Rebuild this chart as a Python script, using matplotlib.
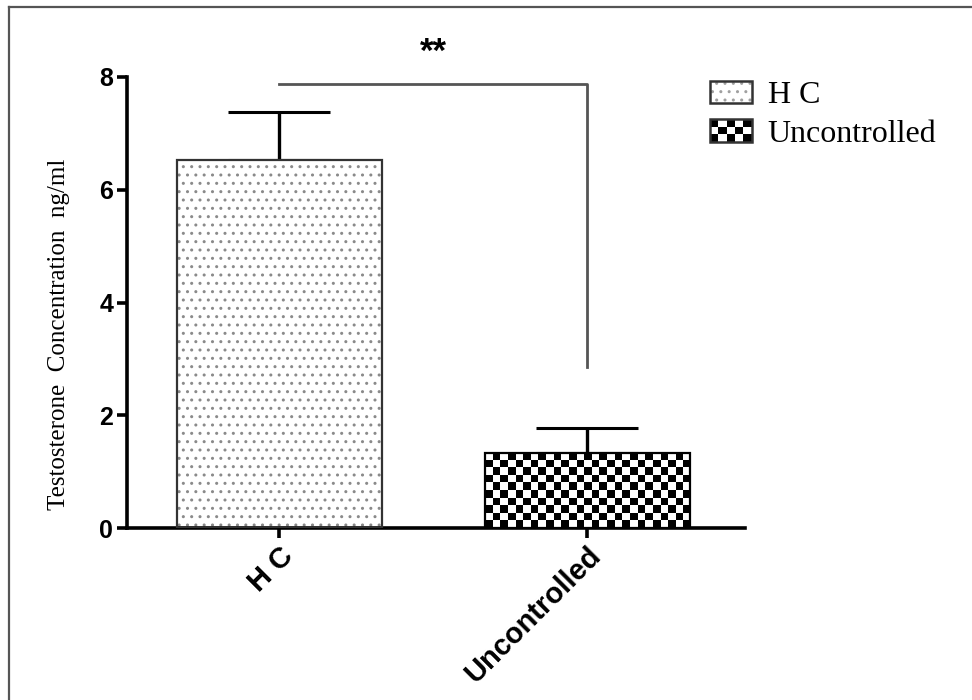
import numpy as np
import matplotlib
matplotlib.use('Agg')
import matplotlib.pyplot as plt
from matplotlib.patches import Rectangle
from matplotlib.legend_handler import HandlerBase
from matplotlib.lines import Line2D

# Testosterone concentration (ng/ml), mean and upper error
groups = ['H C', 'Uncontrolled']
means = [6.52, 1.33]
errors = [0.86, 0.44]

# significance bracket: y level and where the right leg stops
sig_level = 7.87
sig_drop = 2.85
sig_label = '**'

plt.rcParams['font.family'] = ['Liberation Sans', 'DejaVu Sans']
serif = ['Liberation Serif', 'DejaVu Serif']

fig = plt.figure(figsize=(9.72, 7.0), dpi=100)
ax = fig.add_axes([0.1307, 0.2457, 0.6358, 0.6443])

x = np.arange(len(groups))
width = 0.666

# light dotted fill for the control group
ax.bar(x[0], means[0], width, color='white', hatch='..', edgecolor='#8a8a8a',
       linewidth=0, zorder=2)
# white base for the checkered bar
ax.bar(x[1], means[1], width, color='white', linewidth=0, zorder=2)

# checkerboard texture clipped to the uncontrolled bar
frame = ax.bar(x[1], means[1], width, fill=False, edgecolor='black',
               linewidth=1.6, zorder=4)[0]
cell_x = 7.6 / 308.0
cell_y = 7.6 / 56.4
nx = int(np.ceil(width / cell_x))
ny = int(np.ceil(means[1] / cell_y))
checker = (np.add.outer(np.arange(ny), np.arange(nx)) % 2).astype(float)
x0 = x[1] - width / 2
im = ax.imshow(checker, cmap='gray', interpolation='nearest', origin='lower',
               extent=[x0, x0 + nx * cell_x, 0, ny * cell_y], aspect='auto',
               zorder=3)
im.set_clip_path(frame)

# outlines for the control bar
ax.bar(x[0], means[0], width, fill=False, edgecolor='#333333', linewidth=1.6,
       zorder=4)

# upper error bars only
ax.errorbar(x, means, yerr=[np.zeros(len(errors)), errors], fmt='none',
            ecolor='black', elinewidth=2.4, capsize=37, capthick=2.2, zorder=1)

# significance bracket
ax.plot([x[0], x[1], x[1]], [sig_level, sig_level, sig_drop], color='#555555',
        linewidth=2.0, zorder=1, clip_on=False)
ax.text((x[0] + x[1]) / 2, 8.15, sig_label, ha='center', va='bottom',
        fontsize=25, fontweight='bold', clip_on=False)

ax.set_xlim(-0.494, 1.513)
ax.set_ylim(0, 8)
ax.set_yticks([0, 2, 4, 6, 8])
ax.set_xticks(x)
ax.set_xticklabels(groups, rotation=45, ha='right', rotation_mode='anchor',
                   fontsize=21, fontweight='bold')
for lab in ax.get_yticklabels():
    lab.set_fontsize(18)
    lab.set_fontweight('bold')

for side in ['top', 'right']:
    ax.spines[side].set_visible(False)
for side in ['left', 'bottom']:
    ax.spines[side].set_linewidth(2.6)
ax.tick_params(axis='both', length=7, width=2.6, pad=3)

ax.set_ylabel('Testosterone  Concentration  ng/ml', fontsize=18,
              family=serif)
ax.yaxis.set_label_coords(-0.093, 0.43)


class SwatchHandler(HandlerBase):
    def __init__(self, kind):
        super().__init__()
        self.kind = kind

    def create_artists(self, legend, orig_handle, xdescent, ydescent, width,
                       height, fontsize, trans):
        arts = []
        if self.kind == 'checker':
            cols, rows = 5, 3
            cw, ch = width / cols, height / rows
            for i in range(cols):
                for j in range(rows):
                    if (i + j) % 2 == 0:
                        arts.append(Rectangle((-xdescent + i * cw, -ydescent + j * ch),
                                              cw, ch, facecolor='black',
                                              edgecolor='none', transform=trans))
        else:
            arts.append(Rectangle((-xdescent, -ydescent), width, height,
                                  facecolor='white', hatch='..',
                                  edgecolor='#a0a0a0', linewidth=0,
                                  transform=trans))
        arts.append(Rectangle((-xdescent, -ydescent), width, height,
                              fill=False, edgecolor='#333333', linewidth=1.8,
                              transform=trans))
        return arts


h1 = Rectangle((0, 0), 1, 1)
h2 = Rectangle((0, 0), 1, 1)
fig.legend([h1, h2], groups, loc='upper left',
           bbox_to_anchor=(710 / 972, 1 - 81 / 700), frameon=False,
           prop={'family': serif, 'size': 23}, handlelength=1.3,
           handleheight=0.7, handletextpad=0.5, labelspacing=0.28,
           borderaxespad=0, borderpad=0,
           handler_map={h1: SwatchHandler('dots'), h2: SwatchHandler('checker')})

# outer frame along the left and top edges
fx = 9 / 972
fy = 1 - 7 / 700
fig.add_artist(Line2D([fx, fx], [0, fy], color='#555555', linewidth=1.6))
fig.add_artist(Line2D([fx, 1], [fy, fy], color='#555555', linewidth=1.6))

fig.savefig('out.png', dpi=100)
